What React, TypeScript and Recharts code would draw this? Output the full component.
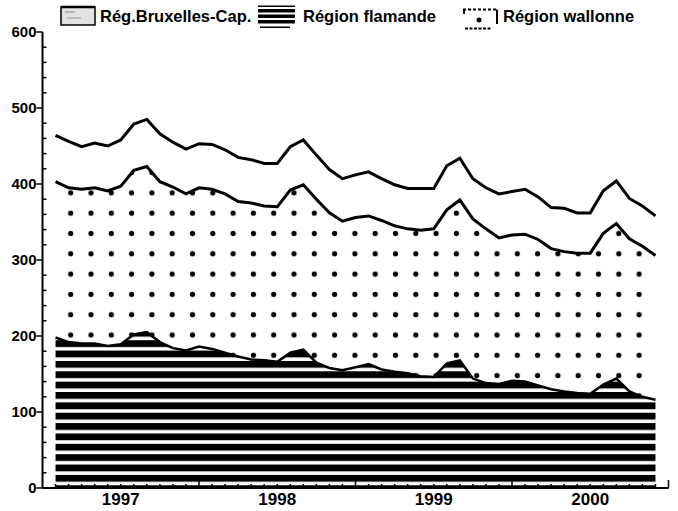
import React from 'react'
import { AreaChart, Area, XAxis, YAxis, Legend } from 'recharts'

// month index from Jan 1997 (1 = end of Jan 1997 ... 47 = end of Nov 2000)
const months = [
  1, 2, 3, 4, 5, 6, 7, 8, 9, 10, 11, 12,
  13, 14, 15, 16, 17, 18, 19, 20, 21, 22, 23, 24,
  25, 26, 27, 28, 29, 30, 31, 32, 33, 34, 35, 36,
  37, 38, 39, 40, 41, 42, 43, 44, 45, 46, 47,
]

const flamande = [
  198, 192, 190, 190, 187, 189, 202, 205, 192, 184, 181, 186,
  183, 178, 173, 169, 168, 166, 178, 182, 165, 158, 155, 159,
  163, 156, 153, 151, 147, 146, 164, 168, 144, 138, 137, 141,
  140, 135, 130, 127, 125, 124, 136, 144, 127, 120, 116,
]

const wallonne = [
  205, 203, 203, 205, 204, 208, 216, 218, 211, 212, 206, 209,
  210, 209, 204, 206, 203, 204, 214, 217, 215, 204, 196, 197,
  195, 196, 192, 190, 192, 195, 202, 211, 210, 203, 192, 192,
  194, 192, 185, 184, 184, 185, 199, 204, 201, 198, 190,
]

const bruxelles = [
  61, 61, 56, 59, 59, 61, 61, 62, 63, 59, 59, 58,
  59, 58, 58, 57, 56, 57, 57, 59, 58, 57, 56, 56,
  58, 55, 54, 53, 55, 53, 58, 55, 53, 54, 58, 57,
  59, 56, 54, 57, 53, 53, 56, 56, 53, 53, 52,
]

const years = ['1997', '1998', '1999', '2000']
const regions = ['Rég.Bruxelles-Cap.', 'Région flamande', 'Région wallonne']

const data = months.map((m, i) => ({
  m,
  fl: flamande[i],
  wa: wallonne[i],
  br: bruxelles[i],
}))

const xTicks = Array.from({ length: 49 }, (_, i) => i)
const yTicks = Array.from({ length: 31 }, (_, i) => i * 20)

const FONT = '"Liberation Sans", Arial, Helvetica, sans-serif'

const XTick = (props: any) => {
  const { x, y, payload } = props
  const v = payload.value
  const len = v % 12 === 0 ? 8 : 4
  return (
    <g>
      {v > 0 && <line x1={x} x2={x} y1={y} y2={y - len} stroke="#000" strokeWidth={1.5} />}
      {v % 12 === 6 && (
        <text x={x} y={y + 17} textAnchor="middle" fontFamily={FONT} fontWeight="bold" fontSize={17} fill="#000">
          {years[(v - 6) / 12]}
        </text>
      )}
    </g>
  )
}

const YTick = (props: any) => {
  const { x, y, payload } = props
  const v = payload.value
  if (v % 100 === 0) {
    return (
      <g>
        <line x1={x - 6} x2={x} y1={y} y2={y} stroke="#000" strokeWidth={1.5} />
        <text x={x - 6} y={y + 5} textAnchor="end" fontFamily={FONT} fontWeight="bold" fontSize={15} fill="#000">
          {v}
        </text>
      </g>
    )
  }
  return <line x1={x} x2={x + 4} y1={y} y2={y} stroke="#000" strokeWidth={1.5} />
}

const legendLayout = [
  { px: 61, tx: 100 },
  { px: 258, tx: 303 },
  { px: 463, tx: 503 },
]

const renderLegend = () => (
  <svg width={678} height={32} style={{ display: 'block', overflow: 'visible' }}>
    {/* Bruxelles patch */}
    <rect x={legendLayout[0].px} y={7} width={34} height={18} fill="#e2e2e2" stroke="#000" strokeWidth={1.5} />
    <line x1={legendLayout[0].px} x2={legendLayout[0].px + 34} y1={7} y2={7} stroke="#000" strokeWidth={2.5} />
    <line x1={legendLayout[0].px + 4} x2={legendLayout[0].px + 14} y1={12} y2={12} stroke="#888" strokeWidth={1} />
    <line x1={legendLayout[0].px + 6} x2={legendLayout[0].px + 20} y1={18} y2={18} stroke="#999" strokeWidth={1} />
    {/* flamande patch */}
    <g fill="#000">
      <rect x={legendLayout[1].px} y={5.5} width={37} height={1.5} />
      <rect x={legendLayout[1].px} y={9} width={37} height={3.5} />
      <rect x={legendLayout[1].px} y={14.5} width={37} height={3.5} />
      <rect x={legendLayout[1].px} y={20} width={37} height={3.5} />
      <rect x={legendLayout[1].px + 2} y={26.5} width={30} height={1.5} />
    </g>
    {/* wallonne patch */}
    <g stroke="#000" strokeWidth={2} fill="none">
      <line x1={legendLayout[2].px} x2={legendLayout[2].px + 35} y1={9.5} y2={9.5} strokeDasharray="3 2" />
      <line x1={legendLayout[2].px + 1} x2={legendLayout[2].px + 1} y1={9.5} y2={14} />
      <line x1={legendLayout[2].px + 34} x2={legendLayout[2].px + 34} y1={9.5} y2={24} />
      <line x1={legendLayout[2].px + 2} x2={legendLayout[2].px + 28} y1={28.5} y2={28.5} strokeDasharray="3 1.5" />
    </g>
    <circle cx={legendLayout[2].px + 16} cy={20} r={2.5} fill="#000" />
    {regions.map((r, i) => (
      <text
        key={r}
        x={legendLayout[i].tx}
        y={21.5}
        fontFamily={FONT}
        fontWeight="bold"
        fontSize={16.5}
        fill="#000"
      >
        {r}
      </text>
    ))}
  </svg>
)

export default function App() {
  return (
    <div style={{ position: 'absolute', left: 0, top: 0, background: '#fff', fontFamily: FONT }}>
      <AreaChart width={678} height={511} data={data} margin={{ top: 32, right: 9.5, bottom: 0, left: 0 }}>
        <defs>
          <pattern id="stripes" patternUnits="userSpaceOnUse" x={0} y={474.9} width={10} height={10.36}>
            <rect x={0} y={0} width={10} height={6.8} fill="#000" />
          </pattern>
          <pattern id="dots" patternUnits="userSpaceOnUse" x={60.55} y={324.85} width={20.3} height={20.3}>
            <circle cx={10.15} cy={10.15} r={2.6} fill="#000" />
          </pattern>
        </defs>
        <Legend
          verticalAlign="top"
          align="left"
          wrapperStyle={{ top: 0, left: 0, width: 678, height: 0, overflow: 'visible' }}
          content={renderLegend}
        />
        <XAxis
          type="number"
          dataKey="m"
          domain={[0, 48]}
          ticks={xTicks}
          interval={0}
          height={23}
          tickSize={0}
          tickMargin={0}
          tickLine={false}
          axisLine={{ stroke: '#000', strokeWidth: 2 }}
          tick={<XTick />}
        />
        <YAxis
          type="number"
          domain={[0, 600]}
          ticks={yTicks}
          interval={0}
          width={42.5}
          tickSize={0}
          tickMargin={0}
          tickLine={false}
          axisLine={{ stroke: '#000', strokeWidth: 2 }}
          tick={<YTick />}
        />
        <Area
          type="linear"
          dataKey="fl"
          name={regions[1]}
          stackId="a"
          stroke="#000"
          strokeWidth={2.5}
          fill="url(#stripes)"
          fillOpacity={1}
          isAnimationActive={false}
        />
        <Area
          type="linear"
          dataKey="wa"
          name={regions[2]}
          stackId="a"
          stroke="#000"
          strokeWidth={3}
          fill="url(#dots)"
          fillOpacity={1}
          isAnimationActive={false}
        />
        <Area
          type="linear"
          dataKey="br"
          name={regions[0]}
          stackId="a"
          stroke="#000"
          strokeWidth={3}
          fill="none"
          isAnimationActive={false}
        />
      </AreaChart>
    </div>
  )
}
